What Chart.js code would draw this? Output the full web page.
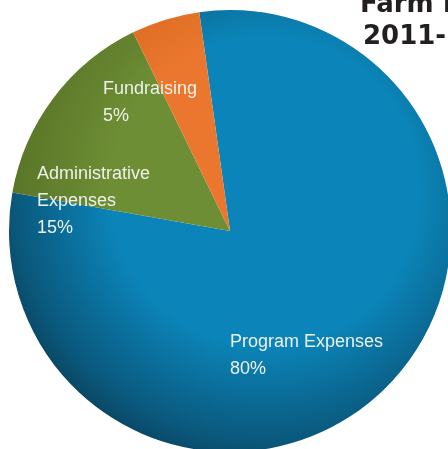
<!DOCTYPE html>
<html>
<head>
<meta charset="utf-8">
<script src="https://cdn.jsdelivr.net/npm/chart.js@4.4.1/dist/chart.umd.min.js"></script>
<style>
  html, body { margin: 0; padding: 0; background: #fff; overflow: hidden; }
  #wrap { width: 460px; height: 460px; }
</style>
</head>
<body>
<div id="wrap"><canvas id="expense_chart" width="460" height="460"></canvas></div>
<script>
// values
var categories = ['Program Expenses', 'Administrative Expenses', 'Fundraising'];
var shares = [80, 15, 5];
var labelLines = [['Program Expenses'], ['Administrative', 'Expenses'], ['Fundraising']];
var titleLines = ['Farm Income', '2011-2012'];

// light centre / dark rim for each slice
var innerColors = ['#0b85b9', '#6e8e35', '#ea772d'];
var outerColors = ['#0a587c', '#5a7628', '#d8661f'];

// where the text sits (left x, first baseline y)
var labelSpots = [[230, 347], [37, 179], [103, 94]];

function shade(context) {
  var chart = context.chart;
  var area = chart.chartArea;
  if (!area) return innerColors[context.dataIndex];
  var cx = (area.left + area.right) / 2;
  var cy = (area.top + area.bottom) / 2;
  var r = (area.right - area.left) / 2;
  var g = chart.ctx.createRadialGradient(cx + 35, cy - 40, 0, cx + 35, cy - 40, r * 1.26);
  var i = context.dataIndex;
  g.addColorStop(0, innerColors[i]);
  g.addColorStop(0.55, innerColors[i]);
  g.addColorStop(0.9, outerColors[i]);
  g.addColorStop(1, '#0a4562');
  return g;
}

var textPlugin = {
  id: 'textPlugin',
  afterDraw: function (chart) {
    var ctx = chart.ctx;
    ctx.save();
    ctx.textBaseline = 'alphabetic';
    ctx.textAlign = 'left';
    ctx.fillStyle = '#eef1ea';
    ctx.font = '18px "Liberation Sans", Arial, sans-serif';
    labelLines.forEach(function (lines, i) {
      var x = labelSpots[i][0];
      var y = labelSpots[i][1];
      lines.concat([shares[i] + '%']).forEach(function (t, k) {
        ctx.fillText(t, x, y + k * 27);
      });
    });
    ctx.fillStyle = '#231f20';
    ctx.font = 'bold 26px "DejaVu Sans", Verdana, sans-serif';
    ctx.fillText(titleLines[0], 360, 12);
    ctx.fillText(titleLines[1], 363, 44);
    ctx.restore();
  }
};

var ctx = document.getElementById('expense_chart').getContext('2d');
var chartInstance = new Chart(ctx, {
  type: 'pie',
  data: {
    labels: categories,
    datasets: [{
      data: shares,
      backgroundColor: shade,
      borderWidth: 0
    }]
  },
  options: {
    responsive: false,
    animation: false,
    rotation: -8,
    layout: { padding: { left: 9, right: 9, top: 10, bottom: 8 } },
    plugins: {
      legend: { display: false },
      tooltip: { enabled: false },
      title: { display: false }
    }
  },
  plugins: [textPlugin]
});
</script>
</body>
</html>
